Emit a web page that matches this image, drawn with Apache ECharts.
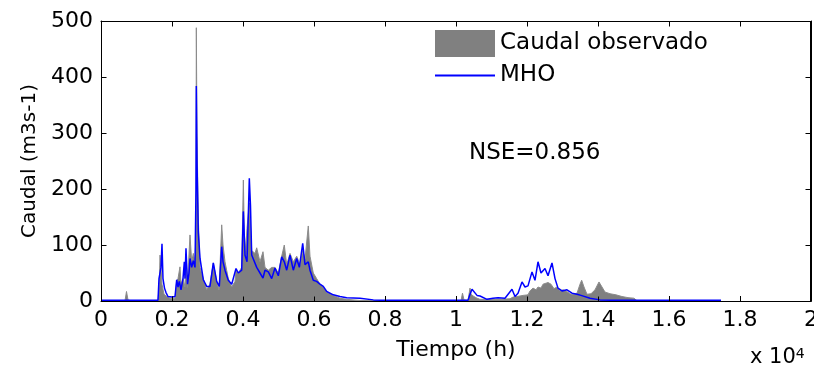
<!DOCTYPE html>
<html>
<head>
<meta charset="utf-8">
<script src="https://cdn.jsdelivr.net/npm/echarts@6/dist/echarts.min.js"></script>
<style>
html,body{margin:0;padding:0;background:#fff;}
#chart{width:814px;height:374px;}
</style>
</head>
<body>
<div id="chart"></div>
<script>
// Observed flow (Caudal observado), hours vs m3/s
const obsHours = [0,676,718,761,845,1606,1642,1662,1690,1718,1775,1859,1944,2085,2132,2169,2225,2254,2310,2366,2394,2431,2507,2555,2600,2648,2676,2685,2704,2741,2789,2882,2977,3070,3164,3259,3324,3400,3437,3493,3586,3682,3775,3803,3868,3963,4010,4037,4076,4113,4178,4245,4338,4386,4479,4563,4620,4713,4808,4901,4995,5090,5163,5231,5324,5417,5513,5606,5682,5747,5839,5887,5980,6074,6169,6262,6358,6451,6544,6732,6921,7099,7296,7859,9127,10141,10183,10225,10338,10395,10423,10507,10592,10676,10958,11239,11521,11606,11718,11887,12028,12085,12169,12254,12310,12394,12451,12507,12592,12676,12761,12845,12930,13014,13099,13212,13296,13409,13493,13540,13606,13690,13803,13916,14028,14113,14197,14338,14507,14676,14845,15014,15099,17436];
const obsFlow  = [0.5,0.5,17,2,0.5,1,30,82,60,30,12,8,5,5,35,40,61,30,40,25,82,24,118,70,85,70,120,488,300,150,60,40,20,30,68,35,20,136,100,70,40,25,35,55,50,60,216,120,90,130,175,90,85,95,70,88,60,55,60,60,50,80,100,65,85,70,80,65,90,75,134,80,50,40,30,25,15,13,10,5,3,2,1,0.5,0.5,0.5,14,2,1,23,12,8,5,3,3,3,4,7,8,10,11,18,23,20,25,23,30,28,33,30,22,25,18,20,18,13,11,14,30,37,25,12,13,20,34,25,16,13,11,8,6,5,0.5,0.5];

// Simulated flow (MHO)
const simHours = [0,1606,1634,1690,1718,1746,1789,1831,1887,1999,2085,2132,2169,2206,2254,2310,2347,2366,2394,2437,2479,2507,2555,2600,2648,2676,2685,2704,2741,2789,2882,2977,3070,3164,3259,3333,3400,3437,3493,3586,3682,3803,3868,3963,4010,4056,4113,4178,4211,4245,4386,4479,4563,4620,4713,4808,4901,4995,5090,5163,5231,5324,5417,5513,5587,5682,5747,5839,5887,5980,6074,6169,6262,6358,6544,6732,6921,7296,7671,7859,10338,10395,10451,10507,10592,10676,10873,11042,11183,11380,11577,11662,11747,11859,11944,12028,12141,12225,12310,12394,12507,12592,12704,12789,12873,12986,13127,13268,13409,13521,13775,14057,14338,17465];
const simFlow  = [1.5,1.5,40,60,102,40,23,15,8,7,8,38,25,35,20,40,70,40,94,30,50,76,60,72,60,200,384,250,123,76,38,26,26,68,35,26,97,70,55,37,30,58,50,55,160,82,70,219,170,82,60,50,41,55,52,40,59,45,79,70,55,82,55,76,60,103,65,70,55,37,35,30,26,17,11,8,6,5,2,1.5,1.5,12,21,18,10,9,3,5,6,5,21,8,14,34,25,27,52,37,70,50,58,45,68,40,23,18,20,14,12,10,5,2,1.5,1.5];

const xTickLabels = ['0','0.2','0.4','0.6','0.8','1','1.2','1.4','1.6','1.8','2'];
const yTickLabels = ['0','100','200','300','400','500'];
const seriesNames = ['Caudal observado','MHO'];
const nseText = 'NSE=0.856';

const X_MAX = 20000, X_STEP = 2000, Y_MAX = 500, Y_STEP = 100;
const FONT = 'DejaVu Sans';
const obsData = obsHours.map((h,i)=>[h, obsFlow[i]]);
const simData = simHours.map((h,i)=>[h, simFlow[i]]);

// Axes box with inward ticks (MATLAB "box on"), positioned through the library's coordinate system
function renderFrame(params, api){
  const p0 = api.coord([0, 0]);
  const p1 = api.coord([X_MAX, Y_MAX]);
  const L = Math.round(p0[0]) + 0.5, R = Math.round(p1[0]) - 0.5;
  const B = Math.round(p0[1]) + 0.5, T = Math.round(p1[1]) + 0.5;
  const st = {stroke:'#000', lineWidth:1, fill:null};
  const kids = [
    {type:'line', shape:{x1:L, y1:T, x2:R, y2:T}, style:st},
    {type:'line', shape:{x1:R, y1:T, x2:R, y2:B}, style:st},
    {type:'line', shape:{x1:L, y1:B, x2:R, y2:B}, style:st},
    {type:'line', shape:{x1:L, y1:T, x2:L, y2:B}, style:st}
  ];
  const TL = 5;
  xTickLabels.forEach((_, i) => {
    const x = Math.round(api.coord([i * X_STEP, 0])[0]) + 0.5;
    kids.push({type:'line', shape:{x1:x, y1:B, x2:x, y2:B - TL}, style:st});
    kids.push({type:'line', shape:{x1:x, y1:T, x2:x, y2:T + TL}, style:st});
  });
  yTickLabels.forEach((_, i) => {
    const y = Math.round(api.coord([0, i * Y_STEP])[1]) + 0.5;
    kids.push({type:'line', shape:{x1:L, y1:y, x2:L + TL, y2:y}, style:st});
    kids.push({type:'line', shape:{x1:R, y1:y, x2:R - TL, y2:y}, style:st});
  });
  return {type:'group', children:kids};
}

const chart = echarts.init(document.getElementById('chart'), null, {renderer:'canvas'});
function axLine(){ return {show:true, onZero:false, lineStyle:{color:'#000', width:1}}; }
function tickIn(){ return {show:true, inside:true, length:5, lineStyle:{color:'#000', width:1}}; }
chart.setOption({
  animation:false,
  grid:{left:101, right:3, top:21, bottom:73, outerBoundsMode:'none'},
  title:[
    {text:nseText, left:464, top:137, padding:5,
     textStyle:{fontFamily:FONT, fontSize:23, fontWeight:'normal', color:'#000'}},
    {text:'x 10{s|4}', left:745, top:342, padding:5,
     textStyle:{fontFamily:FONT, fontSize:21, fontWeight:'normal', color:'#000',
       rich:{s:{fontFamily:FONT, fontSize:14, color:'#000', verticalAlign:'top'}}}}
  ],
  legend:{
    orient:'vertical', left:430, top:25, itemWidth:60, itemHeight:27, itemGap:5,
    textStyle:{fontFamily:FONT, fontSize:23, color:'#000'},
    data:[
      {name:seriesNames[0], icon:'rect'},
      {name:seriesNames[1], icon:'path://M0,0M0,12.6L60,12.6L60,14.4L0,14.4ZM60,27'}
    ]
  },
  xAxis:[
    {type:'value', min:0, max:X_MAX, interval:X_STEP, position:'bottom',
     name:'Tiempo (h)', nameLocation:'middle', nameGap:38,
     nameTextStyle:{fontFamily:FONT, fontSize:22, color:'#000'},
     axisLine:axLine(), axisTick:tickIn(), splitLine:{show:false},
     axisLabel:{fontFamily:FONT, fontSize:22, color:'#000', margin:8,
       formatter:(v)=>xTickLabels[Math.round(v/X_STEP)]}},
    {type:'value', min:0, max:X_MAX, interval:X_STEP, position:'top',
     axisLine:axLine(), axisTick:tickIn(), axisLabel:{show:false}, splitLine:{show:false}}
  ],
  yAxis:[
    {type:'value', min:0, max:Y_MAX, interval:Y_STEP, position:'left',
     name:'Caudal (m3s-1)', nameLocation:'middle', nameGap:61, nameRotate:90,
     nameTextStyle:{fontFamily:FONT, fontSize:20, color:'#000'},
     axisLine:axLine(), axisTick:tickIn(), splitLine:{show:false},
     axisLabel:{fontFamily:FONT, fontSize:22, color:'#000', margin:8,
       formatter:(v)=>yTickLabels[Math.round(v/Y_STEP)]}},
    {type:'value', min:0, max:Y_MAX, interval:Y_STEP, position:'right',
     axisLine:axLine(), axisTick:tickIn(), axisLabel:{show:false}, splitLine:{show:false}}
  ],
  series:[
    {name:seriesNames[0], type:'line', data:obsData, symbol:'none', showSymbol:false,
     xAxisIndex:1, yAxisIndex:1,
     color:'#808080',
     lineStyle:{color:'#8c8c8c', width:1},
     areaStyle:{color:'#808080', opacity:1}, z:2},
    {name:seriesNames[1], type:'line', data:simData, symbol:'none', showSymbol:false,
     xAxisIndex:0, yAxisIndex:0,
     color:'#0000ff',
     lineStyle:{color:'#0000ff', width:1.5}, z:3},
    {type:'custom', data:[[0,0]], renderItem:renderFrame, clip:false, silent:true,
     xAxisIndex:0, yAxisIndex:0, z:4, tooltip:{show:false}}
  ]
});
</script>
</body>
</html>
